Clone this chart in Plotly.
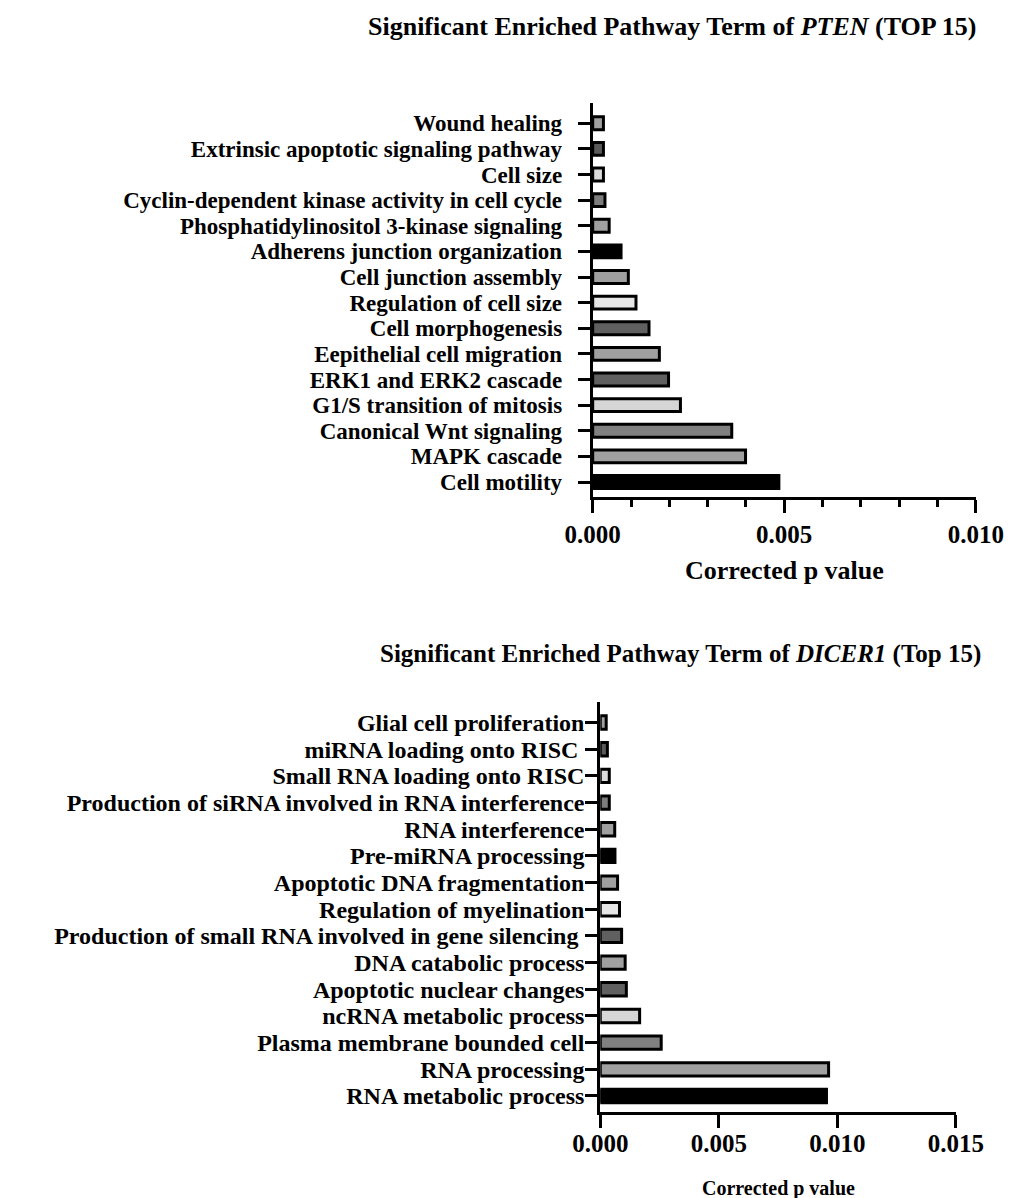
import plotly.graph_objects as go

# ---- PTEN enrichment (listed top to bottom as displayed) ----
pten_terms = [
    "Wound healing",
    "Extrinsic apoptotic signaling pathway",
    "Cell size",
    "Cyclin-dependent kinase activity in cell cycle",
    "Phosphatidylinositol 3-kinase signaling",
    "Adherens junction organization",
    "Cell junction assembly",
    "Regulation of cell size",
    "Cell morphogenesis",
    "Eepithelial cell migration",
    "ERK1 and ERK2 cascade",
    "G1/S transition of mitosis",
    "Canonical Wnt signaling",
    "MAPK cascade",
    "Cell motility",
]
pten_p = [0.00028, 0.00028, 0.00028, 0.00032, 0.00043, 0.00074, 0.00093, 0.00113,
          0.00147, 0.00174, 0.00198, 0.00229, 0.00363, 0.00399, 0.00486]

# ---- DICER1 enrichment (listed top to bottom as displayed) ----
dicer_terms = [
    "Glial cell proliferation",
    "miRNA loading onto RISC ",
    "Small RNA loading onto RISC",
    "Production of siRNA involved in RNA interference",
    "RNA interference",
    "Pre-miRNA processing",
    "Apoptotic DNA fragmentation",
    "Regulation of myelination",
    "Production of small RNA involved in gene silencing ",
    "DNA catabolic process",
    "Apoptotic nuclear changes",
    "ncRNA metabolic process",
    "Plasma membrane bounded cell",
    "RNA processing",
    "RNA metabolic process",
]
dicer_p = [0.00025, 0.00030, 0.00038, 0.00038, 0.00061, 0.00062, 0.00073, 0.00081,
           0.00090, 0.00105, 0.00110, 0.00166, 0.00257, 0.00963, 0.00954]

# grayscale fill cycle, top to bottom
bar_fills = ["#a0a0a0", "#5a5a5a", "#dcdcdc", "#7c7c7c", "#a0a0a0", "#000000",
             "#a0a0a0", "#e6e6e6", "#606060", "#a0a0a0", "#606060", "#d6d6d6",
             "#808080", "#a0a0a0", "#000000"]

W, H = 1035, 1198
FONT = "Liberation Serif"


def px(x):
    return x / W


def py(y):
    return 1 - y / H


fig = go.Figure()
fig.add_trace(go.Bar(
    x=pten_p, y=pten_terms, orientation="h", width=0.5,
    marker=dict(color=bar_fills, line=dict(color="black", width=3)),
    xaxis="x", yaxis="y", showlegend=False,
))
fig.add_trace(go.Bar(
    x=dicer_p, y=dicer_terms, orientation="h", width=0.5,
    marker=dict(color=bar_fills, line=dict(color="black", width=3)),
    xaxis="x2", yaxis="y2", showlegend=False,
))

axis_common = dict(showline=True, linewidth=3, linecolor="black", ticks="outside",
                   tickwidth=3, tickcolor="black", showgrid=False, zeroline=False)

fig.update_layout(
    width=W, height=H,
    margin=dict(l=0, r=0, t=0, b=0),
    paper_bgcolor="white", plot_bgcolor="white",
    xaxis=dict(
        domain=[px(597), px(1002)], anchor="y", range=[0, 0.010], dtick=0.005,
        tickformat=".3f", ticklen=13,
        tickfont=dict(family=FONT, size=25, color="black", weight="bold"),
        minor=dict(dtick=0.001, ticks="outside", ticklen=7, tickwidth=3, tickcolor="black"),
        **axis_common,
    ),
    yaxis=dict(
        domain=[py(497), py(103)], anchor="x", type="category",
        categoryorder="array", categoryarray=pten_terms[::-1],
        tickmode="array", tickvals=pten_terms,
        range=[-0.585, 14.79], ticklen=12, ticklabelstandoff=11,
        tickfont=dict(family=FONT, size=23, color="black", weight="bold"),
        **axis_common,
    ),
    xaxis2=dict(
        domain=[px(605), px(981)], anchor="y2", range=[0, 0.015], dtick=0.005,
        tickformat=".3f", ticklen=13, ticklabelstandoff=-6,
        tickfont=dict(family=FONT, size=25, color="black", weight="bold"),
        **axis_common,
    ),
    yaxis2=dict(
        domain=[py(1112), py(702)], anchor="x2", type="category",
        categoryorder="array", categoryarray=dicer_terms[::-1],
        tickmode="array", tickvals=dicer_terms,
        range=[-0.6, 14.77], ticklen=12, ticklabelstandoff=-4,
        tickfont=dict(family=FONT, size=24, color="black", weight="bold"),
        **axis_common,
    ),
    annotations=[
        dict(text="<b>Significant Enriched Pathway Term of <i>PTEN</i> (TOP 15)</b>",
             x=px(681), y=py(26), xref="paper", yref="paper", showarrow=False,
             xanchor="center", yanchor="middle",
             font=dict(family=FONT, size=26, color="black")),
        dict(text="<b>Corrected p value</b>",
             x=px(800), y=py(570), xref="paper", yref="paper", showarrow=False,
             xanchor="center", yanchor="middle",
             font=dict(family=FONT, size=26, color="black")),
        dict(text="<b>Significant Enriched Pathway Term of <i>DICER1</i> (Top 15)</b>",
             x=px(690), y=py(654), xref="paper", yref="paper", showarrow=False,
             xanchor="center", yanchor="middle",
             font=dict(family=FONT, size=25, color="black")),
        dict(text="<b>Corrected p value</b>",
             x=px(793), y=py(1188), xref="paper", yref="paper", showarrow=False,
             xanchor="center", yanchor="middle",
             font=dict(family=FONT, size=20, color="black")),
    ],
)

fig.write_html("out.html")
